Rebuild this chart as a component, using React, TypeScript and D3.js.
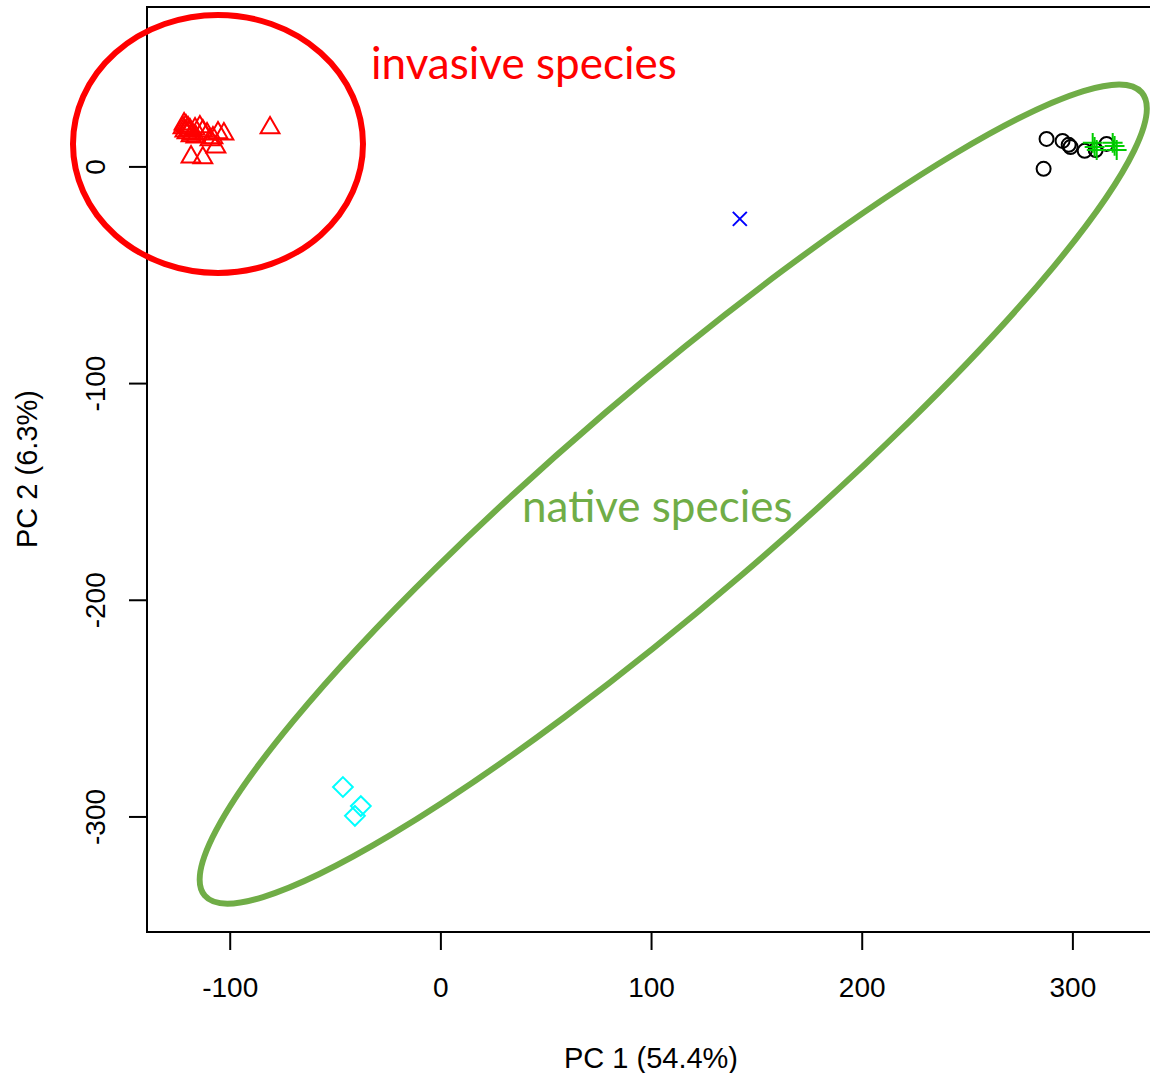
import React from "react";
import * as d3 from "d3";

// PCA scores, grouped by species
const triX = [-121.9, -121.0, -120.0, -122.4, -121.5, -119.1, -120.5, -118.1, -116.7, -114.4, -113.0, -111.0, -108.2, -105.8, -103.0, -109.6, -106.8, -118.6, -113.0, -81.1, -118.6, -116.3];
const triY = [19.8, 18.9, 18.0, 18.0, 16.6, 17.1, 15.7, 15.2, 17.5, 18.5, 16.6, 15.2, 13.4, 15.7, 15.2, 12.5, 9.2, 4.6, 4.2, 18.0, 14.3, 13.8];

const circX = [287.5, 295.1, 298.0, 298.9, 305.6, 310.8, 316.0, 286.1];
const circY = [12.9, 12.0, 10.2, 9.2, 7.4, 7.8, 10.6, -0.9];

const plusX = [309.4, 311.3, 318.9, 320.8, 310.3, 319.8];
const plusY = [11.1, 7.8, 11.1, 7.8, 9.2, 9.7];

const crossX = [141.9];
const crossY = [-24.0];

const diamX = [-46.5, -38.0, -40.8];
const diamY = [-286.2, -295.0, -299.5];

const xTicks = [-100, 0, 100, 200, 300];
const yTicks = [0, -100, -200, -300];

const xTitle = "PC 1 (54.4%)";
const yTitle = "PC 2 (6.3%)";

// Group outlines (centre in data units)
const invasiveCentre = [-105.8, 10.6];
const nativeCentre = [110.3, -151.0];

const W = 1150;
const H = 1073;
const box = { left: 147, top: 7, right: 1158, bottom: 932 };

const x = d3.scaleLinear().domain([-139.5, 340.4]).range([box.left, box.right]);
const y = d3.scaleLinear().domain([73.8, -353.1]).range([box.top, box.bottom]);

const R = 7; // base symbol radius
const sw = 2;

function zip(a: number[], b: number[]) {
  return a.map((v, i) => [v, b[i]] as [number, number]);
}

function trianglePath(cx: number, cy: number) {
  const trc0 = Math.sqrt((4 * Math.PI) / (3 * Math.sqrt(3)));
  const r = trc0 * R;
  const xc = (trc0 * Math.sqrt(3)) / 2 * R;
  const yc = (trc0 / 2) * R;
  return `M${cx},${cy - r}L${cx + xc},${cy + yc}L${cx - xc},${cy + yc}Z`;
}

export default function App() {
  const axisFont = "'Liberation Sans', Arial, sans-serif";
  const noteFont = "Lato, 'Open Sans', sans-serif";
  const [icx, icy] = [x(invasiveCentre[0]), y(invasiveCentre[1])];
  const [ncx, ncy] = [x(nativeCentre[0]), y(nativeCentre[1])];
  return (
    <svg
      width={W}
      height={H}
      style={{ position: "absolute", left: 0, top: 0, background: "#fff" }}
    >
      <rect width={W} height={H} fill="#fff" />
      {/* plot frame */}
      <rect
        x={box.left}
        y={box.top}
        width={box.right - box.left}
        height={box.bottom - box.top}
        fill="none"
        stroke="#000"
        strokeWidth={2}
      />
      {/* x axis */}
      <line x1={x(xTicks[0])} x2={x(xTicks[xTicks.length - 1])} y1={box.bottom} y2={box.bottom} stroke="#000" strokeWidth={2} />
      {xTicks.map((t) => (
        <g key={"xt" + t}>
          <line x1={x(t)} x2={x(t)} y1={box.bottom} y2={box.bottom + 18} stroke="#000" strokeWidth={2} />
          <text x={x(t)} y={997} textAnchor="middle" fontFamily={axisFont} fontSize={28}>
            {t}
          </text>
        </g>
      ))}
      {/* y axis */}
      {yTicks.map((t) => (
        <g key={"yt" + t}>
          <line x1={box.left - 18} x2={box.left} y1={y(t)} y2={y(t)} stroke="#000" strokeWidth={2} />
          <text transform={`translate(105,${y(t)}) rotate(-90)`} textAnchor="middle" fontFamily={axisFont} fontSize={28}>
            {t}
          </text>
        </g>
      ))}
      <text x={651} y={1068} textAnchor="middle" fontFamily={axisFont} fontSize={29}>
        {xTitle}
      </text>
      <text transform={`translate(37,469) rotate(-90)`} textAnchor="middle" fontFamily={axisFont} fontSize={29}>
        {yTitle}
      </text>

      {/* points */}
      {zip(triX, triY).map(([a, b], i) => (
        <path key={"tr" + i} d={trianglePath(x(a), y(b))} fill="none" stroke="#FF0000" strokeWidth={sw} />
      ))}
      {zip(circX, circY).map(([a, b], i) => (
        <circle key={"ci" + i} cx={x(a)} cy={y(b)} r={R} fill="none" stroke="#000" strokeWidth={sw} />
      ))}
      {zip(plusX, plusY).map(([a, b], i) => {
        const px = x(a), py = y(b), s = Math.SQRT2 * R;
        return (
          <path key={"pl" + i} d={`M${px - s},${py}H${px + s}M${px},${py - s}V${py + s}`} stroke="#00CD00" strokeWidth={sw} />
        );
      })}
      {zip(crossX, crossY).map(([a, b], i) => {
        const px = x(a), py = y(b), s = R;
        return (
          <path key={"cr" + i} d={`M${px - s},${py - s}L${px + s},${py + s}M${px - s},${py + s}L${px + s},${py - s}`} stroke="#0000FF" strokeWidth={sw} />
        );
      })}
      {zip(diamX, diamY).map(([a, b], i) => {
        const px = x(a), py = y(b), s = Math.SQRT2 * R;
        return (
          <path key={"di" + i} d={`M${px},${py - s}L${px + s},${py}L${px},${py + s}L${px - s},${py}Z`} fill="none" stroke="#00FFFF" strokeWidth={sw} />
        );
      })}

      {/* group outlines */}
      <ellipse cx={icx} cy={icy} rx={145} ry={129} fill="none" stroke="#FF0000" strokeWidth={6} />
      <ellipse
        cx={0}
        cy={0}
        rx={617}
        ry={106}
        transform={`translate(${ncx},${ncy}) rotate(-40.6)`}
        fill="none"
        stroke="#70AD47"
        strokeWidth={6}
      />
      <text x={371} y={79} fontFamily={noteFont} fontSize={44} fill="#FF0000">
        invasive species
      </text>
      <text x={522} y={522} fontFamily={noteFont} fontSize={44} fill="#70AD47">
        native species
      </text>
    </svg>
  );
}
